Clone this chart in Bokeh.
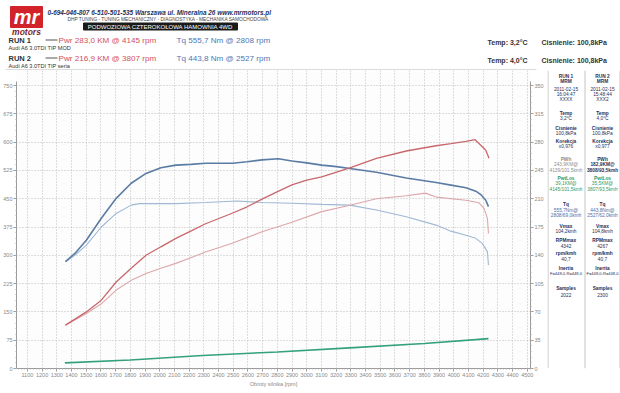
from bokeh.plotting import figure
from bokeh.models import Range1d, LinearAxis, FixedTicker, Label
from bokeh.layouts import column, row
from bokeh.embed import file_html
from bokeh.resources import INLINE
from bokeh.core.properties import value

FONT = "Liberation Sans"

# ---------------- data ----------------
rpm_tq1 = [1359, 1423, 1501, 1603, 1704, 1806, 1907, 2008, 2110, 2211, 2312, 2493, 2595, 2696,
           2808, 2899, 3000, 3102, 3203, 3293, 3474, 3677, 3880, 3981, 4083, 4150, 4184, 4218, 4236]
tq1 = [283, 305, 340, 398, 451, 491, 517, 532, 539, 541, 544, 544, 548, 553,
       555.7, 550, 545, 539, 535, 530, 520, 505, 493, 486, 479, 470, 461, 446, 429]

rpm_tq2 = [1359, 1423, 1501, 1603, 1704, 1806, 1862, 1907, 2110, 2312, 2527, 2696, 2899, 3102,
           3293, 3474, 3677, 3880, 3981, 4083, 4150, 4195, 4229, 4236]
tq2 = [283, 300, 327, 375, 411, 433, 437, 437, 437, 440, 443.8, 440, 438, 435,
       433, 420, 402, 380, 364, 353, 345, 331, 309, 274]

rpm_pw1 = [1359, 1501, 1603, 1704, 1806, 1907, 2008, 2110, 2211, 2312, 2493, 2595, 2696, 2798,
           2899, 3000, 3102, 3203, 3293, 3474, 3677, 3880, 3981, 4083, 4145, 4184, 4218, 4240]
pw1 = [53.6, 70, 84.5, 107, 124, 140, 150.5, 161, 170, 179, 192, 200, 209.5, 218.5,
       227, 233, 237, 243, 248, 260, 269, 275.5, 278, 281, 283.0, 276, 270, 260]

rpm_pw2 = [1359, 1501, 1603, 1704, 1806, 1907, 2008, 2110, 2211, 2312, 2493, 2696, 2899, 3102,
           3293, 3474, 3677, 3807, 3880, 4083, 4170, 4206, 4229, 4236]
pw2 = [53.6, 68, 80, 97, 109, 117.5, 124, 130, 137, 144, 155, 169, 181, 194,
       202, 210, 213.6, 216.9, 212, 208, 205, 198, 185.6, 167]

rpm_loss = [1355, 1800, 2290, 2800, 3290, 3800, 4236]
loss = [7, 10.5, 16, 20.5, 25.5, 31, 37]

nm_ticks = list(range(0, 751, 75))
km_ticks = list(range(0, 351, 35))
rpm_ticks = list(range(1100, 4501, 100))

run_names = ["RUN 1", "RUN 2"]
run_cars = ["Audi A6 3.0TDI TIP MOD", "Audi A6 3.0TDI TIP seria"]
run_pwr = ["Pwr 283,0 KM @ 4145 rpm", "Pwr 216,9 KM @ 3807 rpm"]
run_tq = ["Tq 555,7 Nm @ 2808 rpm", "Tq 443,8 Nm @ 2527 rpm"]
run_temp = ["Temp: 3,2°C", "Temp: 4,0°C"]
run_press = ["Cisnienie: 100,8kPa", "Cisnienie: 100,8kPa"]

table_run1 = ["RUN 1", "MRM", "2011-02-15", "16:04:47", "XXXX", "Temp", "3,2°C", "Cisnienie",
              "100,8kPa", "Korekcja", "x0,976", "PWh", "243,9KM@", "4139/101,5kmh", "PwtLos",
              "39,1KM@", "4145/101,5kmh", "Tq", "555,7Nm@", "2808/69,0kmh", "Vmax", "104,2kmh",
              "RPMmax", "4342", "rpm/kmh", "40,7", "Inertia", "F=448,0-R=448,0", "Samples", "2022"]
table_run2 = ["RUN 2", "MRM", "2011-02-15", "15:48:44", "XXX2", "Temp", "4,0°C", "Cisnienie",
              "100,8kPa", "Korekcja", "x0,977", "PWh", "182,9KM@", "3808/93,5kmh", "PwtLos",
              "35,5KM@", "3807/93,5kmh", "Tq", "443,8Nm@", "2527/62,0kmh", "Vmax", "104,8kmh",
              "RPMmax", "4267", "rpm/kmh", "40,7", "Inertia", "F=448,0-R=448,0", "Samples", "2300"]

# ---------------- layout ----------------
W = 620
HEAD_H = 70
PLOT_W = 547
TAB_W = W - PLOT_W
BODY_H = 320
BOT = 22
BAR_H = 3
FRAME_H = BODY_H - BOT            # 298 px of frame, 0 Nm at its bottom
PX_PER_NM = 283.0 / 750.0
NM_TOP = FRAME_H / PX_PER_NM
KM_TOP = NM_TOP * 350.0 / 750.0

RED_T = "#d2505e"
BLUE_T = "#4d79b5"
NAVY = "#26305a"

# ---------- header ----------
head = figure(width=W, height=HEAD_H, x_range=Range1d(0, W), y_range=Range1d(HEAD_H, 0),
              output_backend="svg", toolbar_location=None, min_border=0,
              x_axis_location=None, y_axis_location=None)
head.grid.visible = False
head.outline_line_color = None

head.quad(left=10, right=42, top=6, bottom=27, color="#d2232a")
head.text(x=[26], y=[16], text=["mr"], text_font=value(FONT), text_font_style="bold italic",
          text_font_size="20px", text_color="white", text_align="center", text_baseline="middle")
head.text(x=[26], y=[31.5], text=["motors"], text_font=value(FONT), text_font_style="bold italic",
          text_font_size="8.5px", text_color="#7a1e22", text_align="center", text_baseline="middle")

head.text(x=[47], y=[11.5], text=["0-694-046-807   6-510-501-535   Warszawa ul. Mineralna 26   www.mrmotors.pl"],
          text_font=value(FONT), text_font_style="bold italic", text_font_size="6.4px",
          text_color=NAVY, text_baseline="middle")
head.text(x=[67], y=[18.5], text=["DHP TUNING - TUNING MECHANICZNY - DIAGNOSTYKA - MECHANIKA SAMOCHODOWA"],
          text_font=value(FONT), text_font_size="4.8px", text_color="#444444", text_baseline="middle")
head.quad(left=83, right=237, top=22.5, bottom=29.5, color="#1a1a1a")
head.text(x=[160], y=[26.2], text=["PODWOZIOWA CZTEROKOŁOWA HAMOWNIA 4WD"], text_font=value(FONT),
          text_font_size="6px", text_color="white", text_align="center", text_baseline="middle")

for i, y0 in enumerate([39.5, 57.5]):
    head.text(x=[8], y=[y0], text=[run_names[i]], text_font=value(FONT), text_font_style="bold",
              text_font_size="7.5px", text_color="#333333", text_baseline="middle")
    head.segment(x0=[45], y0=[y0], x1=[57], y1=[y0], line_color="#555555", line_width=1)
    head.text(x=[58], y=[y0 + 0.5], text=[run_pwr[i]], text_font=value(FONT), text_font_size="8.1px",
              text_color=RED_T, text_baseline="middle")
    head.text(x=[176], y=[y0 + 0.5], text=[run_tq[i]], text_font=value(FONT), text_font_size="8.1px",
              text_color=BLUE_T, text_baseline="middle")
    head.text(x=[8], y=[y0 + 8], text=[run_cars[i]], text_font=value(FONT), text_font_size="5.6px",
              text_color="#333333", text_baseline="middle")
    head.text(x=[487], y=[y0 + 2.5], text=[run_temp[i]], text_font=value(FONT), text_font_style="bold",
              text_font_size="7px", text_color="#333333", text_baseline="middle")
    head.text(x=[541], y=[y0 + 2.5], text=[run_press[i]], text_font=value(FONT), text_font_style="bold",
              text_font_size="7px", text_color="#333333", text_baseline="middle")
head.segment(x0=[5], y0=[69.5], x1=[536], y1=[69.5], line_color="#b8b8b8", line_width=1)

# ---------- main plot ----------
p = figure(width=PLOT_W, height=BODY_H, x_range=Range1d(1026, 4522), y_range=Range1d(0, NM_TOP),
           output_backend="svg", toolbar_location=None,
           min_border_left=13, min_border_right=17, min_border_top=0, min_border_bottom=BOT)
p.extra_y_ranges = {"km": Range1d(0, KM_TOP)}
p.add_layout(LinearAxis(y_range_name="km"), "right")
p.outline_line_color = None
p.background_fill_color = "#fdfdfd"

for ax in p.axis:
    ax.major_label_text_font = FONT
    ax.major_label_text_font_size = "5.5px"
    ax.major_label_text_color = "#888888"
    ax.axis_line_color = "#9a9a9a"
    ax.major_tick_line_color = "#9a9a9a"
    ax.minor_tick_line_color = "#b0b0b0"
    ax.major_tick_out = 3
    ax.major_tick_in = 0
    ax.minor_tick_out = 1
    ax.minor_tick_in = 0
    ax.major_label_standoff = 1

p.xaxis.ticker = FixedTicker(ticks=rpm_ticks, minor_ticks=list(range(1040, 4521, 20)))
p.xaxis.axis_label = "Obroty silnika [rpm]"
p.xaxis.axis_label_text_font = FONT
p.xaxis.axis_label_text_font_size = "5.5px"
p.xaxis.axis_label_text_font_style = "normal"
p.xaxis.axis_label_text_color = "#888888"
p.xaxis.axis_label_standoff = 1

p.yaxis[0].ticker = FixedTicker(ticks=nm_ticks, minor_ticks=list(range(0, 751, 15)))
p.yaxis[0].bounds = (0, 760)
p.yaxis[1].ticker = FixedTicker(ticks=km_ticks, minor_ticks=list(range(0, 351, 7)))
p.yaxis[1].bounds = (0, 355)

p.xgrid.ticker = FixedTicker(ticks=rpm_ticks)
p.xgrid.bounds = (0, 760)
p.ygrid.ticker = FixedTicker(ticks=nm_ticks)
for g in (p.xgrid, p.ygrid):
    g.grid_line_color = "#bdbdbd"
    g.grid_line_dash = "1 2"
    g.grid_line_width = 1

p.line(rpm_loss, loss, y_range_name="km", line_color="#33a27a", line_width=1.6)
p.line(rpm_tq2, tq2, line_color="#9fb8d4", line_width=1.1)
p.line(rpm_pw2, pw2, y_range_name="km", line_color="#dca7aa", line_width=1.1)
p.line(rpm_tq1, tq1, line_color="#5a7ca4", line_width=1.6)
p.line(rpm_pw1, pw1, y_range_name="km", line_color="#c8686d", line_width=1.3)

p.add_layout(Label(x=1026, y=772, text="Nm", x_offset=-1, text_align="right", text_font=FONT,
                   text_font_size="5px", text_color="#888888"))
p.add_layout(Label(x=4522, y=772, text="KM", x_offset=3, text_align="left", text_font=FONT,
                   text_font_size="5px", text_color="#888888"))

# ---------- side table ----------
tab = figure(width=TAB_W, height=BODY_H, x_range=Range1d(0, TAB_W),
             y_range=Range1d(HEAD_H + FRAME_H, HEAD_H),
             output_backend="svg", toolbar_location=None, min_border=0, min_border_bottom=BOT,
             x_axis_location=None, y_axis_location=None)
tab.grid.visible = False
tab.outline_line_color = None
tab.segment(x0=[0.5, 37.5, 72.5], y0=[HEAD_H] * 3, x1=[0.5, 37.5, 72.5], y1=[HEAD_H + FRAME_H] * 3,
            line_color="#c4c4c4", line_width=1)

row_y = [76, 80.5, 88, 93.5, 99, 113, 118, 128, 133, 141, 146, 159, 164, 170, 178, 183, 189,
         204, 209.5, 215, 226, 231, 240, 245, 253, 258, 268, 273, 288, 294]
bold_rows = {0, 1, 5, 7, 9, 11, 14, 17, 20, 22, 24, 26, 28}
for col, (cx, entries) in enumerate([(18.5, table_run1), (55, table_run2)]):
    for k, (yy, txt) in enumerate(zip(row_y, entries)):
        color = NAVY
        if 11 <= k <= 13:
            color = "#8c8c8c" if col == 0 else NAVY
        elif 14 <= k <= 16:
            color = "#2f9a68"
        elif 18 <= k <= 19:
            color = "#4a6ea8"
        tab.text(x=[cx], y=[yy], text=[txt], text_font=value(FONT),
                 text_font_style="bold" if (k in bold_rows or (k in (12, 13) and col == 1)) else "normal",
                 text_font_size="4.1px" if k == 27 else "4.8px", text_color=color,
                 text_align="center", text_baseline="middle")

# ---------- bottom bar ----------
bar = figure(width=W, height=BAR_H, x_range=Range1d(0, W), y_range=Range1d(0, 1),
             output_backend="svg", toolbar_location=None, min_border=0,
             x_axis_location=None, y_axis_location=None)
bar.grid.visible = False
bar.outline_line_color = None
bar.quad(left=5, right=545, top=1, bottom=0, color="#a3a3a3")

layout = column(head, row(p, tab, spacing=0), bar, spacing=0)
open("out.html", "w").write(file_html(layout, INLINE))
